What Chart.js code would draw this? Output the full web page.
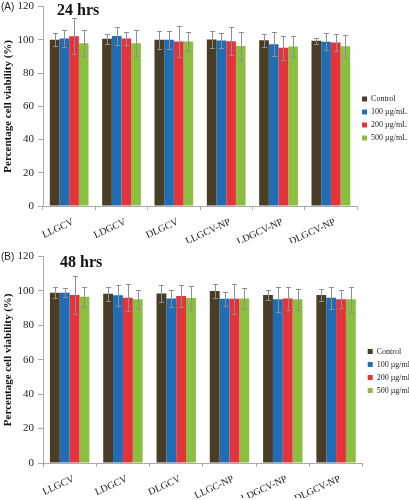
<!DOCTYPE html>
<html><head><meta charset="utf-8">
<script src="https://cdn.jsdelivr.net/npm/chart.js@4.4.1/dist/chart.umd.min.js"></script>
<style>
html,body{margin:0;padding:0;background:#fff;width:409px;height:500px;overflow:hidden;position:relative;}
.box{position:absolute;left:0;width:409px;}
.lbl{position:absolute;font-family:"Liberation Sans",Arial,sans-serif;font-size:10px;color:#222;z-index:2;}
.ttl{position:absolute;font-family:"Liberation Serif","Times New Roman",serif;font-weight:bold;font-size:16px;color:#111;z-index:2;}
</style></head>
<body>
<div class="box" style="top:-4px;height:249px"><canvas id="cA"></canvas></div>
<div class="box" style="top:246px;height:254px"><canvas id="cB"></canvas></div>
<div class="lbl" style="left:1px;top:1px">(A)</div>
<div class="ttl" style="left:57px;top:1px">24 hrs</div>
<div class="lbl" style="left:1px;top:251px">(B)</div>
<div class="ttl" style="left:60px;top:253px">48 hrs</div>
<script>
const categories24 = ['LLGCV','LDGCV','DLGCV','LLGCV-NP','LDGCV-NP','DLGCV-NP'];
const categories48 = ['LLGCV','LDGCV','DLGCV','LLGC-NP','LDGCV-NP','DLGCV-NP'];
const seriesNames24 = ['Control','100 \u00b5g/mL','200 \u00b5g/mL','500 \u00b5g/mL'];
const seriesNames48 = ['Control','100 \u00b5g/ml','200 \u00b5g/ml','500 \u00b5g/ml'];
const yTicks = [0,20,40,60,80,100,120];

const control24 = [100, 100.6, 100, 100.2, 99.8, 99.4];
const ug100_24  = [100.8, 102.3, 100, 99.6, 97.4, 98.8];
const ug200_24  = [102.2, 100.8, 99, 99.2, 95.2, 98.4];
const ug500_24  = [98, 98, 99, 96.3, 96, 96.2];
const control24Err = [4, 3.2, 5.5, 5, 3.9, 2];
const ug100_24Err  = [5.1, 5.4, 5.5, 4.4, 7.1, 5.2];
const ug200_24Err  = [10.8, 3.9, 9.3, 8.5, 7.3, 4.9];
const ug500_24Err  = [8, 8, 5.7, 8.4, 6.5, 6.9];

const control48 = [99, 98.4, 98.6, 100, 97.7, 97.7];
const ug100_48  = [99, 97.5, 95.6, 95.5, 95.2, 96.1];
const ug200_48  = [97.7, 96.1, 97.1, 95.5, 95.7, 95.2];
const ug500_48  = [96.7, 95.2, 96, 95.7, 95.2, 95.2];
const control48Err = [3.1, 4.1, 4.9, 4.1, 2.7, 3.7];
const ug100_48Err  = [2.7, 6.2, 4.8, 4.1, 7.3, 6.4];
const ug200_48Err  = [10.9, 7.8, 6.2, 8.6, 6.8, 5.1];
const ug500_48Err  = [5.9, 5.2, 6.9, 6, 6.2, 7.3];

const colors = ['#4a3d25','#1f6db4','#e5323b','#8bbf40'];
const SERIF = '"Liberation Serif","Times New Roman",serif';

const errorBars = {
  id:'errorBars',
  afterDatasetsDraw(chart){
    const ctx = chart.ctx, ys = chart.scales.y;
    chart.data.datasets.forEach((ds,i)=>{
      const meta = chart.getDatasetMeta(i);
      meta.data.forEach((bar,j)=>{
        const v = ds.data[j], e = ds.errors[j];
        const top = Math.round(ys.getPixelForValue(v+e))+0.5, bot = Math.round(ys.getPixelForValue(v-e))+0.5;
        const x = Math.round(bar.x)+0.5;
        ctx.save();
        ctx.strokeStyle = '#8f8f8f'; ctx.lineWidth = 1;
        ctx.beginPath();
        ctx.moveTo(x, top); ctx.lineTo(x, bot);
        ctx.moveTo(x-2.5, top); ctx.lineTo(x+2.5, top);
        ctx.moveTo(x-2.5, bot); ctx.lineTo(x+2.5, bot);
        ctx.stroke();
        ctx.restore();
      });
    });
  }
};

function makeChart(id, cats, names, vals, errs, pad, xAxisH, yAxisW){
  return new Chart(document.getElementById(id), {
    type:'bar',
    data:{
      labels:cats,
      datasets:names.map((n,i)=>({label:n,data:vals[i],errors:errs[i],backgroundColor:colors[i],borderWidth:0,barPercentage:1.0,categoryPercentage:0.74}))
    },
    options:{
      responsive:true, maintainAspectRatio:false, animation:false,
      layout:{padding:pad, autoPadding:false},
      plugins:{
        legend:{position:'right',align:'center',labels:{boxWidth:5,boxHeight:5,padding:5,color:'#222',font:{family:SERIF,size:8}}},
        tooltip:{enabled:false}
      },
      scales:{
        x:{
          afterFit(s){ s.height = xAxisH; },
          grid:{display:true,drawOnChartArea:false,offset:true,tickLength:4,color:'#aaa'},
          border:{color:'#aaa'},
          ticks:{maxRotation:25,minRotation:25,labelOffset:4,color:'#222',font:{family:SERIF,size:10},padding:6}
        },
        y:{
          min:0,max:120,
          afterFit(s){ s.width = yAxisW; },
          afterBuildTicks(s){s.ticks = yTicks.map(v=>({value:v}));},
          grid:{display:true,drawOnChartArea:false,tickLength:5,color:'#aaa'},
          border:{color:'#aaa'},
          ticks:{color:'#222',font:{family:SERIF,size:11},padding:4},
          title:{display:true,text:'Percentage cell viability (%)',color:'#111',font:{family:SERIF,size:11,weight:'bold'},padding:{top:0,bottom:2}}
        }
      }
    },
    plugins:[errorBars]
  });
}

makeChart('cA', categories24, seriesNames24,
  [control24,ug100_24,ug200_24,ug500_24],
  [control24Err,ug100_24Err,ug200_24Err,ug500_24Err],
  {top:-2,left:2,right:-8,bottom:2}, 37, 41);
makeChart('cB', categories48, seriesNames48,
  [control48,ug100_48,ug200_48,ug500_48],
  [control48Err,ug100_48Err,ug200_48Err,ug500_48Err],
  {top:-2,left:2,right:-11,bottom:2}, 35, 41);
</script>
</body></html>
